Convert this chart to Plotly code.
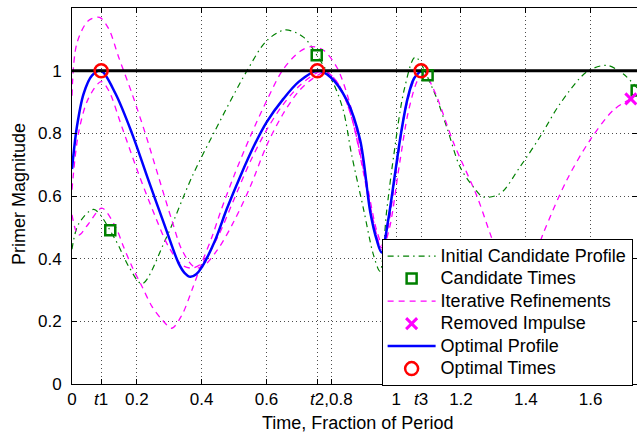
import plotly.graph_objects as go

# ---------------- data ----------------
t1, t2, t3 = 0.09, 0.757, 1.077
primer_limit = 1.0
x_max = 1.743

init_x = [0, 0.02, 0.067, 0.134, 0.175, 0.216, 0.288, 0.37, 0.437, 0.54, 0.601, 0.658,
          0.714, 0.755, 0.807, 0.837, 0.863, 0.899, 0.93, 0.95, 0.971, 0.992, 1.025, 1.059,
          1.115, 1.156, 1.197, 1.238, 1.269, 1.321, 1.382, 1.444, 1.506, 1.588, 1.65, 1.70, 1.743]
init_y = [0.43, 0.51, 0.557, 0.46, 0.375, 0.32, 0.46, 0.661, 0.80, 1.0, 1.096, 1.13,
          1.107, 1.05, 0.958, 0.873, 0.73, 0.56, 0.412, 0.36, 0.555, 0.725, 0.94, 1.043,
          0.937, 0.82, 0.693, 0.629, 0.597, 0.608, 0.693, 0.789, 0.895, 0.996, 1.017, 0.99, 0.945]

cand_x = [0.118, 0.755, 1.097, 1.742]
cand_y = [0.491, 1.049, 0.985, 0.937]

ref1_x = [0, 0.015, 0.051, 0.085, 0.113, 0.144, 0.185, 0.226, 0.267, 0.308, 0.339, 0.375,
          0.40, 0.45, 0.50, 0.55, 0.60, 0.65, 0.70, 0.75, 0.785, 0.82, 0.86, 0.90, 0.93,
          0.955, 0.975, 1.0, 1.03, 1.06, 1.08]
ref1_y = [0.92, 1.087, 1.16, 1.17, 1.134, 1.043, 0.927, 0.80, 0.661, 0.523, 0.428, 0.375,
          0.372, 0.43, 0.52, 0.63, 0.76, 0.86, 0.935, 0.98, 0.995, 0.96, 0.86, 0.68, 0.52,
          0.43, 0.50, 0.68, 0.88, 0.98, 1.0]

ref2_x = [0, 0.02, 0.05, 0.09, 0.113, 0.154, 0.205, 0.257, 0.298, 0.339, 0.37, 0.40,
          0.45, 0.50, 0.55, 0.60, 0.65, 0.70, 0.75, 0.78, 0.82, 0.86, 0.90, 0.93, 0.955,
          0.975, 1.0, 1.03, 1.06, 1.08]
ref2_y = [0.62, 0.80, 0.91, 0.965, 0.937, 0.82, 0.672, 0.534, 0.438, 0.38, 0.37, 0.385,
          0.47, 0.59, 0.71, 0.81, 0.89, 0.95, 0.99, 1.0, 0.96, 0.86, 0.67, 0.51, 0.435,
          0.52, 0.69, 0.89, 0.985, 1.0]

ref3_x = [0, 0.02, 0.05, 0.092, 0.134, 0.159, 0.185, 0.216, 0.247, 0.278, 0.308, 0.339,
          0.37, 0.40, 0.432, 0.46, 0.50, 0.55, 0.601, 0.652, 0.704, 0.74, 0.776, 0.817,
          0.848, 0.88, 0.91, 0.94, 0.96, 0.98, 1.01, 1.04, 1.07, 1.09, 1.12, 1.177, 1.249,
          1.29, 1.33, 1.37, 1.41, 1.454, 1.526, 1.598, 1.67, 1.724]
ref3_y = [0.54, 0.475, 0.51, 0.561, 0.502, 0.438, 0.375, 0.311, 0.247, 0.205, 0.178, 0.22,
          0.30, 0.385, 0.47, 0.555, 0.665, 0.79, 0.905, 1.005, 1.062, 1.077, 1.065, 1.011,
          0.927, 0.80, 0.64, 0.49, 0.44, 0.50, 0.70, 0.88, 0.975, 0.985, 0.93, 0.77, 0.60,
          0.48, 0.37, 0.32, 0.36, 0.481, 0.65, 0.778, 0.874, 0.91]

removed_x = [1.724]
removed_y = [0.91]

opt_x = [0, 0.015, 0.036, 0.062, 0.09, 0.134, 0.185, 0.236, 0.288, 0.329, 0.347, 0.365,
         0.383, 0.40, 0.44, 0.478, 0.52, 0.56, 0.60, 0.652, 0.70, 0.757, 0.797, 0.848,
         0.889, 0.92, 0.94, 0.955, 0.975, 0.995, 1.015, 1.035, 1.055, 1.077]
opt_y = [0.686, 0.82, 0.927, 0.985, 1.0, 0.927, 0.80, 0.65, 0.50, 0.385, 0.355, 0.342,
         0.35, 0.372, 0.455, 0.56, 0.665, 0.757, 0.835, 0.91, 0.965, 1.0, 0.98, 0.905,
         0.778, 0.55, 0.46, 0.42, 0.52, 0.66, 0.80, 0.91, 0.975, 1.0]

optt_x = [t1, t2, t3]
optt_y = [1.0, 1.0, 1.0]

x_tickvals = [0, t1, 0.2, 0.4, 0.6, t2, 0.8, 1.0, t3, 1.2, 1.4, 1.6]
x_ticktext = ['0', '<i>t</i>1', '0.2', '0.4', '0.6', '', '<i>t</i>2,0.8', '1', '<i>t</i>3',
              '1.2', '1.4', '1.6']
y_tickvals = [0, 0.2, 0.4, 0.6, 0.8, 1.0]
y_ticktext = ['0', '0.2', '0.4', '0.6', '0.8', '1']

x_title = 'Time, Fraction of Period'
y_title = 'Primer Magnitude'

# ---------------- styles ----------------
GREEN = 'rgb(0,128,0)'
MAG = 'rgb(255,0,255)'
FONT = 'Liberation Sans, Arial, Helvetica, sans-serif'
dashdot = '6px,4px,1.5px,4px'
dashed = '6px,5px'
SMOOTH = 0.9


def lg(name):
    # legend label drawn a little larger than the legend row pitch font
    return '<span style="font-size:18px">' + name + '</span>'


fig = go.Figure()

fig.add_trace(go.Scatter(x=init_x, y=init_y, mode='lines', name=lg('Initial Candidate Profile'),
                         line=dict(color=GREEN, width=1.2, dash=dashdot, shape='spline', smoothing=SMOOTH),
                         legendrank=1))
for i, (rx, ry) in enumerate([(ref1_x, ref1_y), (ref2_x, ref2_y), (ref3_x, ref3_y)]):
    fig.add_trace(go.Scatter(x=rx, y=ry, mode='lines', name=lg('Iterative Refinements'),
                             legendgroup='ref', showlegend=(i == 0),
                             line=dict(color=MAG, width=1.3, dash=dashed, shape='spline', smoothing=SMOOTH),
                             legendrank=3))
fig.add_trace(go.Scatter(x=opt_x, y=opt_y, mode='lines', name=lg('Optimal Profile'),
                         line=dict(color='rgb(0,0,255)', width=2.5, shape='spline', smoothing=SMOOTH),
                         legendrank=5))
fig.add_trace(go.Scatter(x=[0, x_max], y=[primer_limit, primer_limit], mode='lines',
                         showlegend=False, line=dict(color='black', width=3)))
fig.add_trace(go.Scatter(x=cand_x, y=cand_y, mode='markers', name=lg('Candidate Times'),
                         cliponaxis=False,
                         marker=dict(symbol='square-open', size=10, color=GREEN,
                                     line=dict(color=GREEN, width=2.5)),
                         legendrank=2))
fig.add_trace(go.Scatter(x=removed_x, y=removed_y, mode='markers', name=lg('Removed Impulse'),
                         cliponaxis=False,
                         marker=dict(symbol='x-thin-open', size=11, color=MAG,
                                     line=dict(color=MAG, width=3)),
                         legendrank=4))
fig.add_trace(go.Scatter(x=optt_x, y=optt_y, mode='markers', name=lg('Optimal Times'),
                         cliponaxis=False,
                         marker=dict(symbol='circle-open', size=13, color='red',
                                     line=dict(color='red', width=2.5)),
                         legendrank=6))

axis_common = dict(showline=True, linecolor='black', linewidth=1, mirror='ticks',
                   ticks='inside', ticklen=5, tickcolor='black', tickwidth=1,
                   showgrid=True, gridcolor='rgba(0,0,0,0.7)', gridwidth=1, griddash='1px,3px',
                   zeroline=False, automargin=False,
                   tickfont=dict(family=FONT, size=17, color='black'))

fig.update_xaxes(range=[0, x_max], tickmode='array', tickvals=x_tickvals, ticktext=x_ticktext,
                 ticklabelstandoff=0, **axis_common)
fig.update_yaxes(range=[0, 1.2], tickmode='array', tickvals=y_tickvals, ticktext=y_ticktext,
                 ticklabelstandoff=6, **axis_common)

fig.add_annotation(text=x_title, xref='paper', yref='paper', x=0.5, y=0, xshift=3, yshift=-39,
                   xanchor='center', yanchor='middle', showarrow=False,
                   font=dict(family=FONT, size=18, color='black'))
fig.add_annotation(text=y_title, xref='paper', yref='paper', x=0, y=0.5, xshift=-53, yshift=2,
                   xanchor='center', yanchor='middle', showarrow=False, textangle=-90,
                   font=dict(family=FONT, size=18, color='black'))

fig.update_layout(
    width=637, height=435,
    margin=dict(l=72, r=0, t=8, b=51),
    paper_bgcolor='white', plot_bgcolor='white',
    font=dict(family=FONT, color='black'),
    legend=dict(x=0.548, y=0.386, xanchor='left', yanchor='top',
                bgcolor='white', bordercolor='black', borderwidth=1,
                font=dict(family=FONT, size=15, color='black'),
                itemwidth=48, tracegroupgap=0),
)

fig.write_html('out.html', config={'displayModeBar': False},
               post_script="document.body.style.margin='0';document.body.style.overflow='hidden';")
